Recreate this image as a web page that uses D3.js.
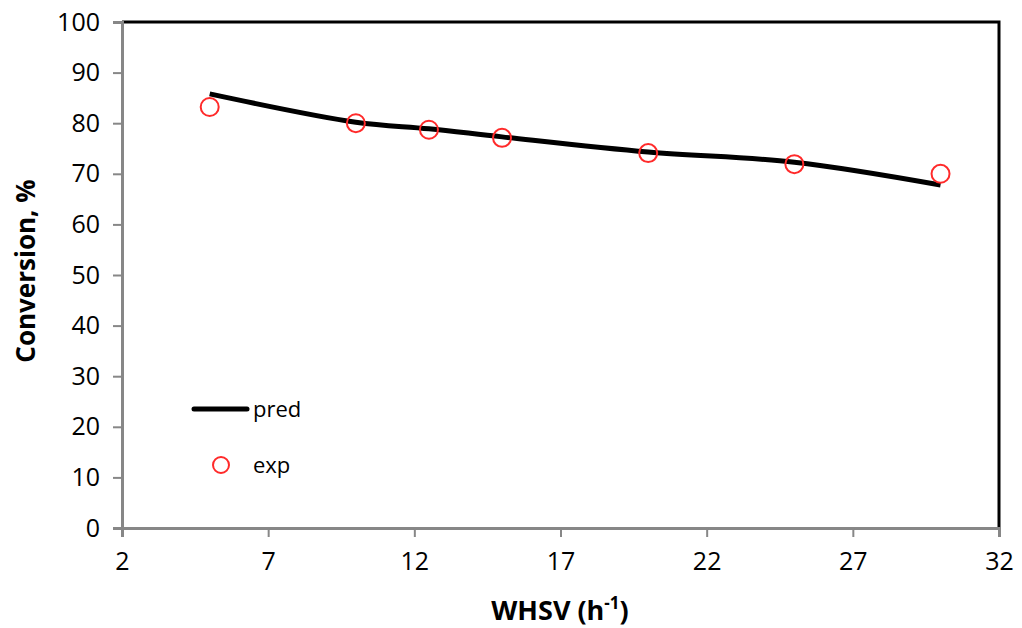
<!DOCTYPE html>
<html>
<head>
<meta charset="utf-8">
<script src="https://cdn.jsdelivr.net/npm/d3@7"></script>
<style>
  body { margin: 0; background: #fff; }
  text { font-family: "Open Sans", Lato, sans-serif; fill: #000; }
</style>
</head>
<body>
<div id="chart"></div>
<script>
// data
var whsv = [5, 10, 12.5, 15, 20, 25, 30];
var predConv = [85.8, 80.2, 78.9, 77.3, 74.3, 72.3, 67.8];
var expConv = [83.2, 80.0, 78.7, 77.1, 74.1, 71.9, 70.0];
var xTicks = [2, 7, 12, 17, 22, 27, 32];
var yTicks = [0, 10, 20, 30, 40, 50, 60, 70, 80, 90, 100];

var width = 1022, height = 628;
var mLeft = 122, mRight = 999, mTop = 22, mBottom = 528;

var svg = d3.select("#chart").append("svg")
    .attr("width", width)
    .attr("height", height);

var x = d3.scaleLinear().domain([2, 32]).range([mLeft, mRight]);
var y = d3.scaleLinear().domain([0, 100]).range([mBottom, mTop]);

// frame: top & right black
svg.append("path")
    .attr("d", "M" + mLeft + "," + mTop + "H" + mRight + "V" + mBottom)
    .style("fill", "none")
    .style("stroke", "#000")
    .style("stroke-width", 3);

// y axis
var yAxis = svg.append("g")
    .attr("transform", "translate(" + mLeft + ",0)")
    .call(d3.axisLeft(y).tickValues(yTicks).tickSize(9).tickPadding(13));
yAxis.select(".domain").style("stroke", "#878787").style("stroke-width", 3);
yAxis.selectAll(".tick line").style("stroke", "#878787").style("stroke-width", 2);
yAxis.selectAll("text").style("font-size", "25px").attr("font-family", null).style("fill", "#000");

// x axis
var xAxis = svg.append("g")
    .attr("transform", "translate(0," + mBottom + ")")
    .call(d3.axisBottom(x).tickValues(xTicks).tickSize(9).tickPadding(15));
xAxis.select(".domain").style("stroke", "#878787").style("stroke-width", 3);
xAxis.selectAll(".tick line").style("stroke", "#878787").style("stroke-width", 2);
xAxis.selectAll("text").style("font-size", "25px").attr("font-family", null).style("fill", "#000");

// predicted line (smoothed)
var line = d3.line()
    .x(function (d, i) { return x(whsv[i]); })
    .y(function (d) { return y(d); })
    .curve(d3.curveCatmullRom);

svg.append("path")
    .datum(predConv)
    .attr("d", line)
    .style("fill", "none")
    .style("stroke", "#000")
    .style("stroke-width", 5);

// experimental points
svg.selectAll(".exp")
    .data(expConv)
    .enter()
    .append("circle")
    .attr("class", "exp")
    .attr("cx", function (d, i) { return x(whsv[i]); })
    .attr("cy", function (d) { return y(d); })
    .attr("r", 9)
    .style("fill", "none")
    .style("stroke", "#ff2a2a")
    .style("stroke-width", 2);

// legend
svg.append("line")
    .attr("x1", 194).attr("x2", 247)
    .attr("y1", 409).attr("y2", 409)
    .style("stroke", "#000")
    .style("stroke-width", 5)
    .style("stroke-linecap", "round");
svg.append("text").attr("x", 253).attr("y", 417).style("font-size", "22px").text("pred");

svg.append("circle")
    .attr("cx", 221).attr("cy", 465).attr("r", 8)
    .style("fill", "none")
    .style("stroke", "#ff2a2a")
    .style("stroke-width", 2);
svg.append("text").attr("x", 253).attr("y", 473).style("font-size", "22px").text("exp");

// axis titles
svg.append("text")
    .attr("transform", "translate(35,271) rotate(-90)")
    .attr("text-anchor", "middle")
    .style("font-size", "26px")
    .style("font-weight", "bold")
    .text("Conversion, %");

var xt = svg.append("text")
    .attr("x", 560)
    .attr("y", 620)
    .attr("text-anchor", "middle")
    .style("font-size", "27px")
    .style("font-weight", "bold");
xt.append("tspan").text("WHSV (h");
xt.append("tspan").attr("dy", -11).style("font-size", "17px").text("-1");
xt.append("tspan").attr("dy", 11).text(")");
</script>
</body>
</html>
